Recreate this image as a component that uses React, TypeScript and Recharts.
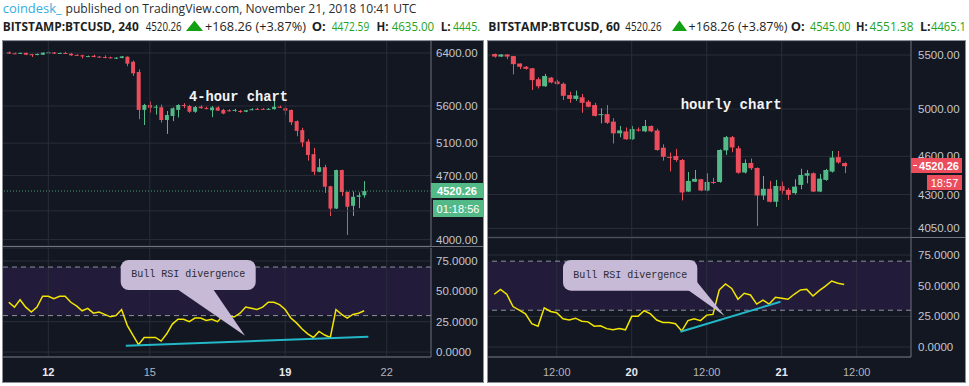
import React from "react";
import {
  Bar,
  CartesianGrid,
  ComposedChart,
  Line,
  ReferenceArea,
  ReferenceLine,
  XAxis,
  YAxis,
} from "recharts";

// ---- 4-hour candles, first one Nov 10 20:00 UTC (x = hours since Nov 12 00:00)
const h4FirstHour = -28;
const h4StepHours = 4;
const h4Open = [
  6410, 6395, 6390, 6402, 6380, 6368, 6372, 6400, 6408, 6390,
  6400, 6388, 6370, 6362, 6340, 6355, 6342, 6335, 6330, 6310,
  6320, 6340, 6260, 6100, 5545, 5614, 5580, 5582, 5406, 5461,
  5545, 5614, 5600, 5520, 5590, 5570, 5540, 5580, 5545, 5540,
  5535, 5530, 5520, 5550, 5560, 5560, 5550, 5555, 5590, 5570,
  5544, 5390, 5270, 5120, 4960, 4745, 4800, 4575, 4325, 4766,
  4510, 4355, 4455, 4472.59,
];
const h4High = [
  6425, 6405, 6405, 6405, 6385, 6390, 6410, 6428, 6415, 6405,
  6420, 6398, 6378, 6372, 6358, 6372, 6350, 6362, 6340, 6330,
  6352, 6345, 6280, 6140, 5630, 5665, 5615, 5620, 5530, 5580,
  5625, 5640, 5615, 5600, 5610, 5590, 5600, 5595, 5560, 5555,
  5560, 5545, 5545, 5570, 5575, 5570, 5570, 5685, 5605, 5590,
  5550, 5400, 5300, 5150, 5040, 4905, 4830, 4580, 4770, 4770,
  4515, 4515, 4505, 4635,
];
const h4Low = [
  6385, 6385, 6385, 6365, 6335, 6362, 6368, 6395, 6385, 6385,
  6390, 6355, 6350, 6312, 6335, 6330, 6328, 6315, 6315, 6305,
  6315, 6190, 6040, 5416, 5338, 5507, 5480, 5370, 5220, 5390,
  5440, 5570, 5505, 5505, 5560, 5555, 5445, 5530, 5485, 5525,
  5520, 5505, 5515, 5540, 5545, 5545, 5545, 5550, 5575, 5474,
  5338, 5190, 5050, 4880, 4707, 4740, 4500, 4245, 4320, 4465,
  4047, 4245, 4330, 4445,
];
const h4Close = [
  6390, 6390, 6402, 6372, 6368, 6385, 6405, 6410, 6390, 6400,
  6395, 6362, 6355, 6345, 6350, 6335, 6335, 6320, 6320, 6325,
  6345, 6230, 6080, 5545, 5614, 5576, 5590, 5406, 5474, 5568,
  5614, 5600, 5520, 5585, 5570, 5565, 5580, 5535, 5495, 5530,
  5545, 5525, 5540, 5555, 5550, 5552, 5560, 5590, 5585, 5535,
  5375, 5260, 5110, 4950, 4745, 4800, 4570, 4325, 4766, 4510,
  4345, 4455, 4472, 4520.26,
];
const h4Rsi = [
  41, 37, 43, 37, 33, 37, 46, 46, 44, 46,
  46, 41, 38, 34, 36, 32, 33, 31, 29, 30,
  35, 22, 14, 6, 12, 12, 12, 9, 15, 23,
  27, 27, 25, 28, 28, 26, 27, 25, 30, 29,
  29, 32, 37, 36, 35, 37, 41, 41, 39, 35,
  28, 24, 19, 15, 12, 17, 14, 12, 35, 31,
  28, 31, 32, 34,
];
const h4TimeTicks = [0, 72, 168, 240];
const h4TimeLabels = ["12", "15", "19", "22"];
const h4StrongLabels = ["12", "19"];
const h4PriceTicks = [4000, 4700, 5100, 5600, 6400];
// grid level whose label sits under the countdown box
const h4HiddenPriceTicks = [4300];
const h4Trend = [
  { x: 55, y: 5.2 },
  { x: 227, y: 12.6 },
];

// ---- hourly candles, first one Nov 19 02:00 UTC (x = hours since Nov 20 00:00)
const h1FirstHour = -22;
const h1StepHours = 1;
const h1Open = [
  5510, 5485, 5505, 5490, 5418, 5387, 5373, 5270, 5205, 5285,
  5250, 5228, 5125, 5090, 5105, 5065, 5035, 4950, 4955, 4890,
  4790, 4806, 4740, 4822, 4807, 4852, 4814, 4670, 4595, 4602,
  4570, 4322, 4398, 4417, 4330, 4396, 4396, 4648, 4758, 4665,
  4470, 4546, 4506, 4292, 4343, 4245, 4364, 4335, 4310, 4373,
  4445, 4464, 4322, 4412, 4477, 4593, 4545,
];
const h1High = [
  5515, 5510, 5510, 5492, 5420, 5395, 5375, 5288, 5320, 5290,
  5265, 5240, 5155, 5165, 5135, 5080, 5055, 5006, 5035, 4920,
  4853, 4840, 4853, 4840, 4904, 4858, 4830, 4698, 4630, 4660,
  4578, 4474, 4490, 4420, 4464, 4428, 4657, 4768, 4768, 4685,
  4575, 4582, 4510, 4443, 4404, 4412, 4399, 4350, 4417, 4500,
  4490, 4471, 4459, 4498, 4643, 4643, 4551.38,
];
const h1Low = [
  5475, 5480, 5460, 5316, 5365, 5360, 5171, 5185, 5200, 5232,
  5222, 5080, 5055, 5073, 4967, 5015, 4935, 4875, 4870, 4705,
  4757, 4735, 4735, 4805, 4800, 4800, 4645, 4565, 4478, 4555,
  4255, 4318, 4395, 4325, 4325, 4380, 4390, 4611, 4633, 4460,
  4462, 4490, 4067, 4259, 4240, 4207, 4305, 4259, 4300, 4340,
  4385, 4318, 4318, 4405, 4470, 4540, 4465.1,
];
const h1Close = [
  5485, 5505, 5485, 5412, 5387, 5368, 5262, 5205, 5300, 5240,
  5225, 5118, 5090, 5120, 5055, 5020, 4940, 4955, 4880, 4790,
  4815, 4740, 4827, 4818, 4852, 4807, 4651, 4596, 4588, 4570,
  4315, 4404, 4420, 4330, 4396, 4392, 4651, 4758, 4672, 4468,
  4546, 4504, 4292, 4343, 4245, 4365, 4328, 4297, 4360, 4451,
  4464, 4322, 4422, 4490, 4590, 4550, 4520.26,
];
const h1Rsi = [
  43, 47, 43, 33, 30, 27, 19, 17, 32, 29,
  28, 23, 22, 23.5, 21, 20.5, 17, 17.3, 15, 14,
  15, 14, 25, 25, 29.6, 27, 22, 20, 20, 19,
  13, 21.5, 23, 21.5, 26, 26.6, 46.5, 51.4, 47.8, 39,
  43.8, 42.4, 35, 38.3, 35, 40.5, 39.7, 38.9, 43, 46.5,
  47, 41.6, 46, 49.7, 53.8, 52, 51,
];
const h1TimeTicks = [-12, 0, 12, 24, 36];
const h1TimeLabels = ["12:00", "20", "12:00", "21", "12:00"];
const h1StrongLabels = ["20", "21"];
const h1PriceTicks = [4050, 4300, 4600, 5000, 5500];
const h1Trend = [
  { x: 7.8, y: 12.5 },
  { x: 23.8, y: 36.9 },
];

const rsiTicks = [0, 25, 50, 75];
const lastPrice = 4520.26;

const UP = "#53b987";
const DOWN = "#eb4d5c";
const BG = "#131722";
const GRID = "#2a2e39";
const DIVIDER = "#6f737e";
const FRAME = "#8c8f98";
const LABEL = "#c3c6ce";
const BAND = "#231b3a";
const AXIS_FONT = '"Liberation Sans", Arial, sans-serif';
const HEAD_FONT = '"Open Sans", "Noto Sans", sans-serif';
const MONO = '"Liberation Mono", "Courier New", monospace';

type Candle = {
  t: number;
  open: number;
  high: number;
  low: number;
  close: number;
  range: [number, number];
  rsi: number;
};

function buildCandles(
  first: number,
  step: number,
  open: number[],
  high: number[],
  low: number[],
  close: number[],
  rsi: number[],
): Candle[] {
  return open.map((o, i) => ({
    t: first + i * step,
    open: o,
    high: high[i],
    low: low[i],
    close: close[i],
    range: [low[i], high[i]],
    rsi: rsi[i],
  }));
}

const h4Data = buildCandles(h4FirstHour, h4StepHours, h4Open, h4High, h4Low, h4Close, h4Rsi);
const h1Data = buildCandles(h1FirstHour, h1StepHours, h1Open, h1High, h1Low, h1Close, h1Rsi);

// the bar is the low..high range; body edges are placed inside it on the log scale
function CandleShape(props: any) {
  const { x, y, width, height, payload } = props;
  if (x == null || y == null || !payload) return null;
  const { open, close, high, low } = payload as Candle;
  const lh = Math.log(high);
  const span = lh - Math.log(low);
  const toY = (v: number) => (span > 0 ? y + (height * (lh - Math.log(v))) / span : y);
  const color = close >= open ? UP : DOWN;
  const top = toY(Math.max(open, close));
  const bottom = toY(Math.min(open, close));
  const cx = Math.round(x + width / 2) + 0.5;
  return (
    <g>
      <line x1={cx} x2={cx} y1={y} y2={y + height} stroke={color} strokeWidth={1} />
      <rect x={x} y={top} width={width} height={Math.max(1, bottom - top)} fill={color} />
    </g>
  );
}

function TimeTick(props: any) {
  const { x, y, payload, ticks, labels, strong } = props;
  const label = labels[ticks.indexOf(payload.value)] ?? "";
  const isStrong = strong.includes(label);
  return (
    <text
      x={x}
      y={y + 19}
      textAnchor="middle"
      fontFamily={AXIS_FONT}
      fontSize={11}
      fontWeight={isStrong ? 700 : 400}
      fill={isStrong ? "#e8eaf0" : "#b2b5be"}
    >
      {label}
    </text>
  );
}

function PricePane(props: {
  data: Candle[];
  width: number;
  height: number;
  xDomain: [number, number];
  xTicks: number[];
  yDomain: [number, number];
  yTicks: number[];
  extraGrid?: number[];
  axisWidth: number;
  labelGap: number;
  barSize: number;
  priceLine?: string;
}) {
  const { data, width, height, xDomain, xTicks, yDomain, yTicks, extraGrid, axisWidth, labelGap, barSize, priceLine } = props;
  return (
    <ComposedChart width={width} height={height} data={data} margin={{ top: 0, right: 0, bottom: 0, left: 0 }}>
      <CartesianGrid stroke={GRID} vertical={false} />
      <XAxis type="number" dataKey="t" domain={xDomain} allowDataOverflow hide />
      <YAxis
        orientation="right"
        scale="log"
        domain={yDomain}
        allowDataOverflow
        ticks={yTicks}
        interval={0}
        width={axisWidth}
        tickLine={false}
        tickSize={0}
        tickMargin={labelGap}
        axisLine={{ stroke: DIVIDER }}
        tick={{ fill: LABEL, fontSize: 11.5, fontFamily: AXIS_FONT }}
        tickFormatter={(v: number) => v.toFixed(2)}
      />
      {xTicks.map((t) => (
        <ReferenceLine key={t} x={t} stroke={GRID} />
      ))}
      {(extraGrid ?? []).map((v) => (
        <ReferenceLine key={v} y={v} stroke={GRID} />
      ))}
      {priceLine && <ReferenceLine y={lastPrice} stroke={priceLine} strokeDasharray="1 2" strokeOpacity={0.8} />}
      <Bar dataKey="range" barSize={barSize} shape={(p: any) => <CandleShape {...p} />} isAnimationActive={false} />
    </ComposedChart>
  );
}

function RsiPane(props: {
  data: Candle[];
  width: number;
  height: number;
  top: number;
  xDomain: [number, number];
  xTicks: number[];
  xLabels: string[];
  strong: string[];
  yDomain: [number, number];
  axisWidth: number;
  labelGap: number;
  trend: { x: number; y: number }[];
}) {
  const { data, width, height, top, xDomain, xTicks, xLabels, strong, yDomain, axisWidth, labelGap, trend } = props;
  return (
    <ComposedChart width={width} height={height} data={data} margin={{ top, right: 0, bottom: 0, left: 0 }}>
      <ReferenceArea y1={30} y2={70} fill={BAND} fillOpacity={1} stroke="none" />
      <CartesianGrid stroke={GRID} vertical={false} />
      <XAxis
        type="number"
        dataKey="t"
        domain={xDomain}
        allowDataOverflow
        ticks={xTicks}
        interval={0}
        height={26}
        tickLine={false}
        tickSize={0}
        tickMargin={0}
        axisLine={{ stroke: DIVIDER }}
        tick={(p: any) => <TimeTick {...p} ticks={xTicks} labels={xLabels} strong={strong} />}
      />
      <YAxis
        orientation="right"
        domain={yDomain}
        allowDataOverflow
        ticks={rsiTicks}
        interval={0}
        width={axisWidth}
        tickLine={false}
        tickSize={0}
        tickMargin={labelGap}
        axisLine={{ stroke: DIVIDER }}
        tick={{ fill: LABEL, fontSize: 11.5, fontFamily: AXIS_FONT }}
        tickFormatter={(v: number) => v.toFixed(4)}
      />
      {xTicks.map((t) => (
        <ReferenceLine key={t} x={t} stroke={GRID} />
      ))}
      <ReferenceLine y={70} stroke="#8f929c" strokeDasharray="5 4" />
      <ReferenceLine y={30} stroke="#8f929c" strokeDasharray="5 4" />
      <Line dataKey="rsi" stroke="#f2e600" strokeWidth={1.5} dot={false} isAnimationActive={false} />
      <ReferenceLine segment={trend} stroke="#22b8c8" strokeWidth={2} />
    </ComposedChart>
  );
}

const abs = (left: number, top: number, width: number, height: number): React.CSSProperties => ({
  position: "absolute",
  left,
  top,
  width,
  height,
});

function HeadText(p: { x: number; w: number; y: number; bold?: boolean; color?: string; size?: number; children: string }) {
  return (
    <text
      x={p.x}
      y={p.y}
      fontFamily={HEAD_FONT}
      fontSize={p.size ?? 12}
      fontWeight={p.bold ? 700 : 400}
      fill={p.color ?? "#1d1f24"}
      textLength={p.w}
      lengthAdjust="spacingAndGlyphs"
    >
      {p.children}
    </text>
  );
}

function Arrow({ x, w }: { x: number; w: number }) {
  return <polygon points={`${x},31 ${x + w},31 ${x + w / 2},20.5`} fill="#14a014" />;
}

function Bubble({ x, y, w, h, pointer, text, tx, ty }: any) {
  return (
    <g>
      <polygon points={pointer} fill="#c6bad6" />
      <rect x={x} y={y} width={w} height={h} rx={8} fill="#c6bad6" />
      <text x={tx} y={ty} textAnchor="middle" fontFamily={MONO} fontSize={10} fill="#2b2b33">
        {text}
      </text>
    </g>
  );
}

const GREEN_TXT = "#22a322";

export default function App() {
  return (
    <div style={{ position: "absolute", left: 0, top: 0, width: 969, height: 386, background: "#fff", overflow: "hidden" }}>
      {/* left: 4-hour */}
      <div style={{ ...abs(2, 40, 482, 343), boxSizing: "border-box", border: `1px solid ${FRAME}`, background: BG }} />
      <div style={abs(3, 41, 480, 205)}>
        <PricePane
          data={h4Data}
          width={480}
          height={205}
          xDomain={[-32.1, 271.4]}
          xTicks={h4TimeTicks}
          yDomain={[3936, 6596]}
          yTicks={h4PriceTicks}
          extraGrid={h4HiddenPriceTicks}
          axisWidth={52}
          labelGap={5}
          barSize={4}
          priceLine={UP}
        />
      </div>
      <div style={{ ...abs(3, 246, 480, 1), background: DIVIDER }} />
      <div style={abs(3, 246, 480, 137)}>
        <RsiPane
          data={h4Data}
          width={480}
          height={137}
          top={2}
          xDomain={[-32.1, 271.4]}
          xTicks={h4TimeTicks}
          xLabels={h4TimeLabels}
          strong={h4StrongLabels}
          yDomain={[-4.1, 85.7]}
          axisWidth={52}
          labelGap={5}
          trend={h4Trend}
        />
      </div>

      {/* right: hourly */}
      <div style={{ ...abs(487, 40, 479, 343), boxSizing: "border-box", border: `1px solid ${FRAME}`, background: BG }} />
      <div style={abs(488, 41, 477, 196)}>
        <PricePane
          data={h1Data}
          width={477}
          height={196}
          xDomain={[-23, 44.69]}
          xTicks={h1TimeTicks}
          yDomain={[3989, 5638]}
          yTicks={h1PriceTicks}
          axisWidth={54}
          labelGap={7}
          barSize={5}
        />
      </div>
      <div style={{ ...abs(488, 237, 477, 1), background: DIVIDER }} />
      <div style={abs(488, 237, 477, 146)}>
        <RsiPane
          data={h1Data}
          width={477}
          height={146}
          top={1}
          xDomain={[-23, 44.69]}
          xTicks={h1TimeTicks}
          xLabels={h1TimeLabels}
          strong={h1StrongLabels}
          yDomain={[-8.15, 88.9]}
          axisWidth={54}
          labelGap={7}
          trend={h1Trend}
        />
      </div>

      {/* header, labels and annotations */}
      <svg width={969} height={386} style={{ position: "absolute", left: 0, top: 0, pointerEvents: "none" }}>
        <HeadText x={2.7} y={12.5} w={59} size={12.5} color="#36ace0">coindesk_</HeadText>
        <HeadText x={65.5} y={12.5} w={351} size={12.5} color="#2a2d33">
          published on TradingView.com, November 21, 2018 10:41 UTC
        </HeadText>

        <HeadText x={2.7} y={31} w={136} bold>BITSTAMP:BTCUSD, 240</HeadText>
        <HeadText x={145.7} y={31} w={36}>4520.26</HeadText>
        <Arrow x={186} w={17} />
        <HeadText x={205} y={31} w={101}>+168.26 (+3.87%)</HeadText>
        <HeadText x={311.7} y={31} w={14} bold>O:</HeadText>
        <HeadText x={331.7} y={31} w={37.5} color={GREEN_TXT}>4472.59</HeadText>
        <HeadText x={376.5} y={31} w={12} bold>H:</HeadText>
        <HeadText x={391.7} y={31} w={42.5} color={GREEN_TXT}>4635.00</HeadText>
        <HeadText x={440.7} y={31} w={10} bold>L:</HeadText>
        <HeadText x={453} y={31} w={27} color={GREEN_TXT}>4445.</HeadText>

        <HeadText x={488.3} y={31} w={131.5} bold>BITSTAMP:BTCUSD, 60</HeadText>
        <HeadText x={625.3} y={31} w={36.3}>4520.26</HeadText>
        <Arrow x={672} w={15} />
        <HeadText x={688.5} y={31} w={99}>+168.26 (+3.87%)</HeadText>
        <HeadText x={790.7} y={31} w={14} bold>O:</HeadText>
        <HeadText x={810} y={31} w={40.5} color={GREEN_TXT}>4545.00</HeadText>
        <HeadText x={856} y={31} w={11.6} bold>H:</HeadText>
        <HeadText x={869.5} y={31} w={44} color={GREEN_TXT}>4551.38</HeadText>
        <HeadText x={920} y={31} w={10.7} bold>L:</HeadText>
        <HeadText x={931} y={31} w={35} color={GREEN_TXT}>4465.1</HeadText>

        <text x={189} y={100.5} fontFamily={MONO} fontWeight={700} fontSize={14} fill="#f4f4f6" textLength={99} lengthAdjust="spacingAndGlyphs">
          4-hour chart
        </text>
        <text x={680.7} y={109.3} fontFamily={MONO} fontWeight={700} fontSize={14} fill="#f4f4f6" textLength={101} lengthAdjust="spacingAndGlyphs">
          hourly chart
        </text>

        <Bubble x={120.7} y={260} w={135} h={30} pointer="177,289 213,289 245,335.7" text="Bull RSI divergence" tx={188.2} ty={276.5} />
        <Bubble x={563} y={260} w={134.3} h={30.7} pointer="688,290 697,282 724.7,316" text="Bull RSI divergence" tx={630.2} ty={277.5} />

        {/* last price markers */}
        <rect x={431} y={183} width={52} height={15} fill={UP} />
        <text x={457} y={194.5} textAnchor="middle" fontFamily={AXIS_FONT} fontWeight={700} fontSize={11} fill="#fff">
          4520.26
        </text>
        <rect x={433} y={200} width={50} height={17} fill={UP} />
        <text x={458} y={212.5} textAnchor="middle" fontFamily={AXIS_FONT} fontSize={11} fill="#fff">
          01:18:56
        </text>

        <rect x={911} y={158} width={51} height={15} fill={DOWN} />
        <line x1={913} x2={917} y1={165.5} y2={165.5} stroke="#fff" />
        <text x={939} y={169.5} textAnchor="middle" fontFamily={AXIS_FONT} fontWeight={700} fontSize={11} fill="#fff">
          4520.26
        </text>
        <rect x={927} y={175} width={35} height={15} fill={DOWN} />
        <text x={944.5} y={186.5} textAnchor="middle" fontFamily={AXIS_FONT} fontSize={11} fill="#fff">
          18:57
        </text>
      </svg>
    </div>
  );
}
